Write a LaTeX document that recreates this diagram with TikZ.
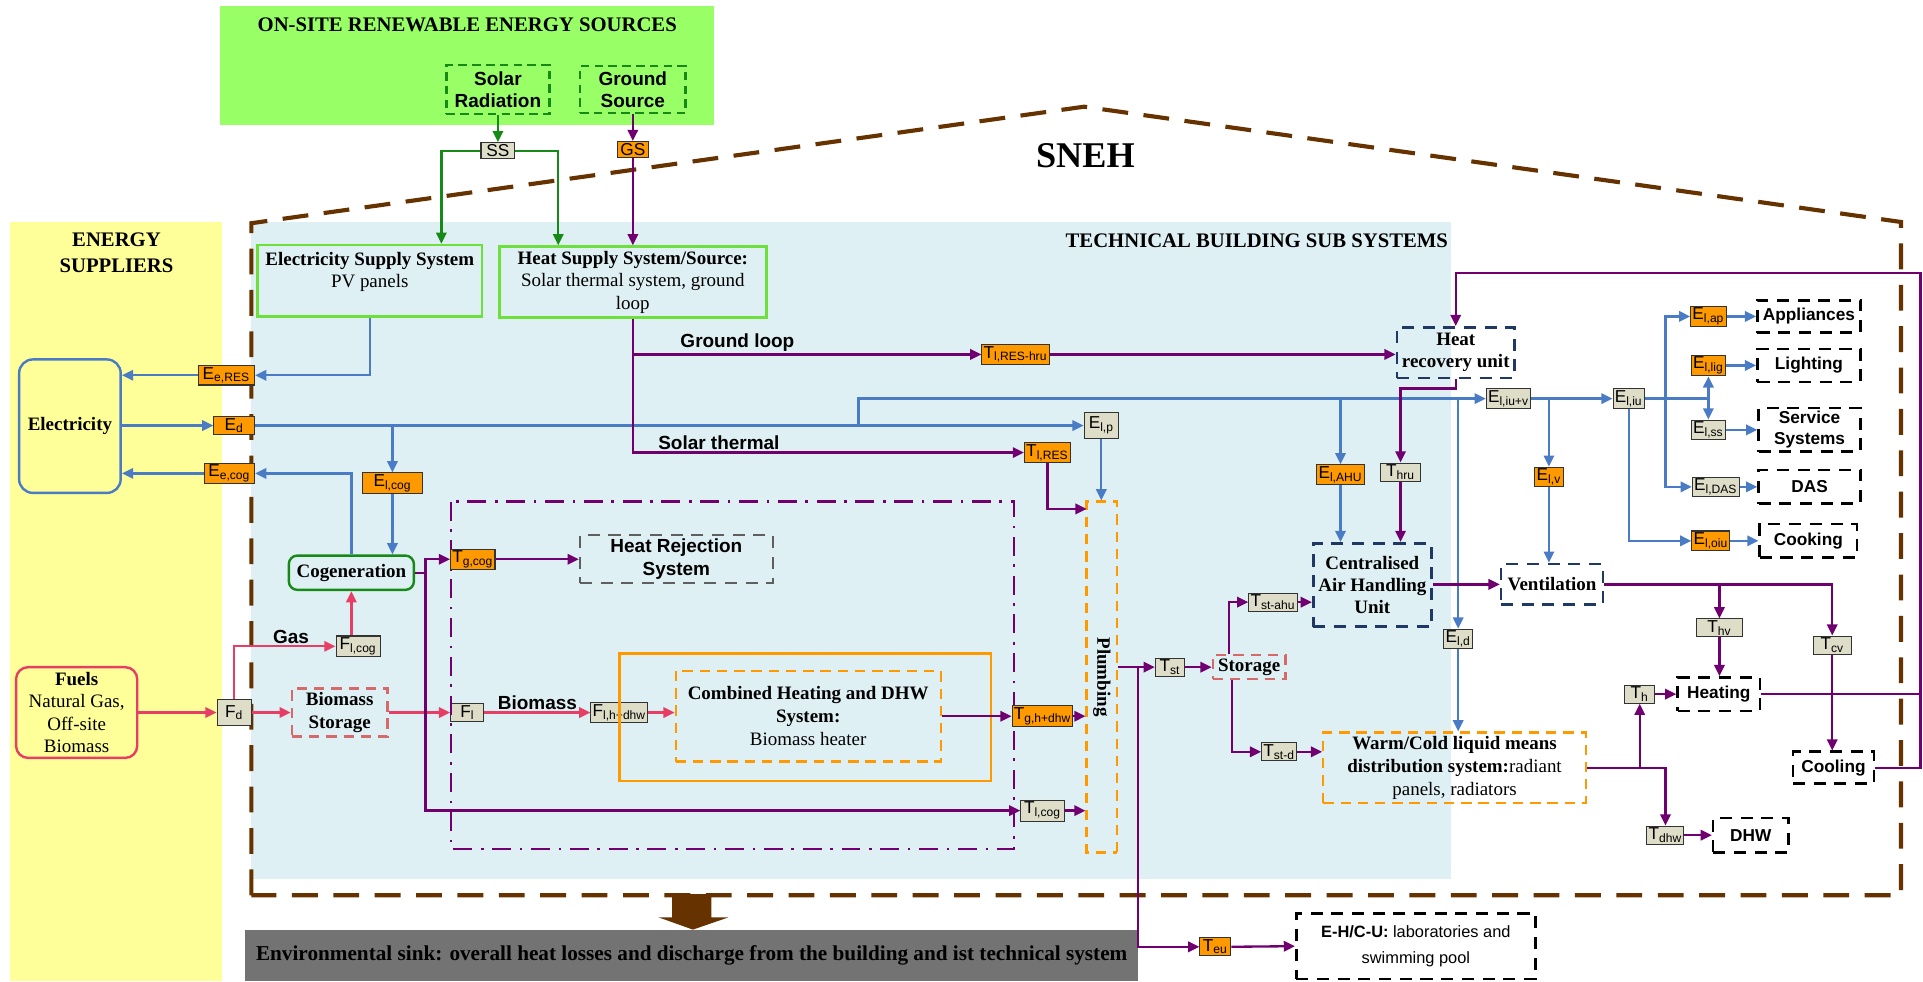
\documentclass[tikz,border=0pt]{standalone}
\usepackage{fontspec}
\setmainfont{Liberation Serif}
\newfontfamily\arialf{Liberation Sans}
\usetikzlibrary{arrows.meta}

\definecolor{bgyellow}{HTML}{FFFF99}
\definecolor{bgblue}{HTML}{DFF0F5}
\definecolor{bggreen}{HTML}{99FF66}
\definecolor{sinkgray}{HTML}{737373}
\definecolor{housebrown}{HTML}{663300}
\definecolor{elblue}{HTML}{4A7CC6}
\definecolor{heatpurple}{HTML}{700070}
\definecolor{fuelred}{HTML}{E63E64}
\definecolor{solargreen}{HTML}{168A16}
\definecolor{supgreen}{HTML}{6EE03C}
\definecolor{laborange}{HTML}{FF9900}
\definecolor{labgray}{HTML}{DDDDC8}
\definecolor{navydash}{HTML}{1F3864}
\definecolor{storpink}{HTML}{D46A6A}
\definecolor{rejgray}{HTML}{5F5F5F}

\newcommand{\sbx}[2]{#1\textsubscript{#2}}

\tikzset{
  headtxt/.style={font=\bfseries\fontsize{12}{15}\selectfont, align=center, inner sep=0pt},
  olab/.style={draw=black!80, line width=0.6pt, fill=laborange, inner sep=1pt,
    minimum height=0.33cm, font=\arialf\fontsize{10}{10}\selectfont},
  glab/.style={olab, fill=labgray},
  sysbox/.style={draw, align=center, inner sep=2pt, font=\fontsize{11}{13}\selectfont},
  supbox/.style={sysbox, draw=supgreen, line width=1.4pt},
  srcbox/.style={sysbox, draw=solargreen, line width=1.3pt, dash pattern=on 5pt off 3pt,
    font=\arialf\bfseries\fontsize{11}{13}\selectfont},
  endbox/.style={sysbox, draw=black, line width=1.5pt, dash pattern=on 7pt off 5pt,
    font=\arialf\bfseries\fontsize{10}{12}\selectfont},
  navybox/.style={sysbox, draw=navydash, line width=1.5pt, dash pattern=on 7pt off 5pt,
    font=\bfseries\fontsize{11}{13}\selectfont},
  orbox/.style={sysbox, draw=laborange, line width=1.3pt, dash pattern=on 6pt off 4pt},
  pinkbox/.style={sysbox, draw=storpink, line width=1.3pt, dash pattern=on 6pt off 4pt,
    font=\bfseries\fontsize{11}{13}\selectfont},
  bline/.style={elblue, line width=1.35pt},
  pline/.style={heatpurple, line width=1.35pt},
  rline/.style={fuelred, line width=1.35pt},
  gline/.style={solargreen, line width=1.35pt},
  flowtxt/.style={text=black, font=\arialf\bfseries\fontsize{11}{13}\selectfont, inner sep=1pt},
}

\begin{document}
\begin{tikzpicture}[x=0.025cm, y=-0.025cm, >={Triangle[length=6.5pt,width=6pt]}]
\useasboundingbox (0,0) rectangle (1568,800);

% backgrounds
\fill[bgyellow] (8,181) rectangle (181,800);
\fill[bgblue] (205,181) rectangle (1183,717);
\fill[bggreen] (179,5) rectangle (582,102);
\draw[housebrown, line width=2.4pt, dash pattern=on 15pt off 9pt]
  (205,730) -- (205,182) -- (884,87) -- (1550,181) -- (1550,730) -- cycle;

% titles
\node[headtxt] (renew) at (381,20) {ON-SITE RENEWABLE ENERGY SOURCES};
\node[headtxt] (supp) at (95,206) {ENERGY\\SUPPLIERS};
\node[font=\bfseries\fontsize{21}{24}\selectfont] (sneh) at (885,127) {SNEH};
\node[headtxt, anchor=east] (tbss) at (1181,196) {TECHNICAL BUILDING SUB SYSTEMS};

% renewable sources
\node[srcbox, minimum width=2.1cm, minimum height=1cm] (solar) at (406,73) {Solar\\Radiation};
\node[srcbox, minimum width=2.15cm, minimum height=0.95cm] (ground) at (516,73) {Ground\\Source};
\node[glab, minimum width=0.69cm] (ss) at (406,123) {SS};
\node[olab, minimum width=0.62cm] (gs) at (516,122) {GS};

% supply systems
\node[supbox, minimum width=4.575cm, minimum height=1.46cm] (ess) at (301.5,229)
  {\textbf{Electricity Supply System}\\PV panels\\\mbox{}};
\node[supbox, minimum width=5.44cm, minimum height=1.45cm] (hss) at (516,230)
  {\textbf{Heat Supply System/Source:}\\Solar thermal system, ground\\loop};

% energy suppliers
\node[sysbox, draw=elblue, line width=1.4pt, rounded corners=8pt, minimum width=2.07cm,
  minimum height=2.72cm, font=\bfseries\fontsize{11}{13}\selectfont] (elec) at (57,347.5) {Electricity};
\node[sysbox, draw=fuelred, line width=1.4pt, rounded corners=7pt, minimum width=2.47cm,
  minimum height=1.85cm] (fuels) at (62.5,581) {\textbf{Fuels}\\Natural Gas,\\Off-site\\Biomass};

% electricity labels
\node[olab, anchor=east, minimum width=1.15cm] (eeres) at (208,306) {\sbx{E}{e,RES}};
\node[olab, anchor=east, minimum width=0.83cm] (ed) at (208,347) {\sbx{E}{d}};
\node[olab, anchor=east, minimum width=1.03cm] (eecog) at (208,386) {\sbx{E}{e,cog}};
\node[olab, minimum width=1.22cm] (elcog) at (320,394) {\sbx{E}{l,cog}};
\node[sysbox, draw=solargreen, line width=1.4pt, rounded corners=5pt, minimum width=2.55cm,
  minimum height=0.7cm, font=\bfseries\fontsize{11}{13}\selectfont] (cog) at (286.5,467) {Cogeneration};

% fuels
\node[glab, minimum width=0.7cm, minimum height=0.52cm] (fd) at (191,581) {\sbx{F}{d}};
\node[pinkbox, minimum width=1.95cm, minimum height=0.98cm] (bstor) at (277,581) {Biomass\\Storage};
\node[glab, minimum width=0.9cm] (flcog) at (292,527) {\sbx{F}{l,cog}};
\node[glab, anchor=west, minimum width=0.68cm, minimum height=0.36cm] (fl) at (367,581) {\sbx{F}{l}};
\node[glab, minimum width=1.1cm] (flhdhw) at (505,581) {\sbx{F}{l,h+dhw}};

% generation
\draw[heatpurple, line width=1.3pt, dash pattern=on 11pt off 5pt on 1.5pt off 5pt] (368,409) rectangle (827,692);
\node[olab, anchor=west, minimum width=0.83cm] (tgcog) at (367,456) {\sbx{T}{g,cog}};
\node[sysbox, draw=rejgray, line width=1.4pt, dash pattern=on 7pt off 5pt,
  font=\arialf\bfseries\fontsize{11}{13}\selectfont, minimum width=3.93cm, minimum height=0.98cm]
  (hrej) at (551.5,456) {Heat Rejection\\System};
\draw[laborange, line width=1.4pt] (505,533) rectangle (808,637);
\node[orbox, minimum width=5.4cm, minimum height=1.85cm, font=\fontsize{11}{13.5}\selectfont] (comb) at (659,584)
  {\textbf{Combined Heating and DHW}\\\textbf{System:}\\Biomass heater};
\node[olab, minimum width=1.15cm, minimum height=0.43cm] (tghdhw) at (850,584) {\sbx{T}{g,h+dhw}};
\node[glab, minimum width=0.88cm, minimum height=0.43cm] (tlcog) at (850,661) {\sbx{T}{l,cog}};
\node[orbox, rotate=-90, minimum width=7.15cm, minimum height=0.625cm,
  font=\bfseries\fontsize{11}{13}\selectfont] (plumb) at (898.5,552) {Plumbing};
\coordinate (pin) at (886,415);

% heat supply branches
\node[olab, minimum width=1.28cm] (tlreshru) at (828,289) {\sbx{T}{l,RES-hru}};
\node[olab, minimum width=0.88cm, minimum height=0.4cm] (tlres) at (854,369) {\sbx{T}{l,RES}};
\node[glab, minimum width=0.7cm, minimum height=0.52cm] (elp) at (898,347) {\sbx{E}{l,p}};

% air handling
\node[navybox, minimum width=2.4cm, minimum height=1.03cm] (hru) at (1187,287.5) {Heat\\recovery unit};
\node[glab, minimum width=0.83cm] (thru) at (1142,385) {\sbx{T}{hru}};
\node[olab, minimum width=0.95cm] (elahu) at (1093,387) {\sbx{E}{l,AHU}};
\node[navybox, minimum width=2.41cm, minimum height=1.7cm] (cahu) at (1119,477) {Centralised\\Air Handling\\Unit};
\node[glab, minimum width=0.6cm] (eld) at (1189,521) {\sbx{E}{l,d}};
\node[glab, minimum width=0.95cm] (tstahu) at (1038,491) {\sbx{T}{st-ahu}};
\node[pinkbox, minimum width=1.48cm, minimum height=0.45cm] (stor) at (1018.5,544) {Storage};
\node[glab, minimum width=0.6cm] (tst) at (954,544) {\sbx{T}{st}};
\node[glab, minimum width=0.6cm] (tstd) at (1043,613) {\sbx{T}{st-d}};
\node[orbox, minimum width=5.35cm, minimum height=1.39cm, font=\fontsize{11}{13.4}\selectfont] (warm) at (1186,626)
  {\textbf{Warm/Cold liquid means}\\\textbf{distribution system:}radiant\\panels, radiators};

% sink and end users
\node[fill=sinkgray, minimum width=18.2cm, minimum height=1.05cm, font=\bfseries\fontsize{12.3}{14}\selectfont]
  (sink) at (564,779) {Environmental sink: overall heat losses and discharge from the building and ist technical system};
\fill[housebrown] (548,729) -- (580,729) -- (580,748) -- (594,748) -- (565,758) -- (537,748) -- (548,748) -- cycle;
\node[olab, minimum width=0.63cm] (teu) at (991,772) {\sbx{T}{eu}};
\node[endbox, minimum width=4.875cm, minimum height=1.33cm, font=\arialf\fontsize{9.5}{15}\selectfont]
  (ehcu) at (1154.5,771.5) {\textbf{E-H/C-U:} laboratories and\\swimming pool};

% heating, cooling, DHW
\node[glab, minimum width=0.62cm] (th) at (1337,566) {\sbx{T}{h}};
\node[endbox, minimum width=1.68cm, minimum height=0.68cm] (heat) at (1401.5,566) {Heating};
\node[glab, minimum width=0.7cm] (tdhw) at (1358,681) {\sbx{T}{dhw}};
\node[endbox, minimum width=1.53cm, minimum height=0.7cm] (dhw) at (1427.5,681) {DHW};
\node[endbox, minimum width=1.65cm, minimum height=0.65cm] (cool) at (1495,626) {Cooling};
\node[glab, minimum width=0.95cm] (thv) at (1402,512) {\sbx{T}{hv}};
\node[glab, minimum width=0.78cm] (tcv) at (1494,526) {\sbx{T}{cv}};
\node[navybox, minimum width=2.08cm, minimum height=0.83cm] (vent) at (1265.5,476.5) {Ventilation};

% electricity end uses
\node[glab, minimum width=0.87cm] (eliuv) at (1230,325) {\sbx{E}{l,iu+v}};
\node[glab, minimum width=0.62cm] (eliu) at (1328,325) {\sbx{E}{l,iu}};
\node[olab, minimum width=0.6cm] (elv) at (1263,389) {\sbx{E}{l,v}};
\node[olab, minimum width=0.65cm] (elap) at (1393,258) {\sbx{E}{l,ap}};
\node[olab, minimum width=0.7cm] (ellig) at (1393,298) {\sbx{E}{l,lig}};
\node[glab, minimum width=0.65cm] (elss) at (1393,350.5) {\sbx{E}{l,ss}};
\node[glab, minimum width=0.95cm] (eldas) at (1399,397) {\sbx{E}{l,DAS}};
\node[olab, minimum width=0.75cm] (eloiu) at (1395,441) {\sbx{E}{l,oiu}};
\node[endbox, minimum width=2.1cm, minimum height=0.66cm] (app) at (1475,258) {Appliances};
\node[endbox, minimum width=2.1cm, minimum height=0.67cm] (light) at (1475,298) {Lighting};
\node[endbox, minimum width=2.08cm, minimum height=0.8cm] (serv) at (1475.5,350.5) {Service\\Systems};
\node[endbox, minimum width=2.08cm, minimum height=0.68cm] (das) at (1475.5,397) {DAS};
\node[endbox, minimum width=1.98cm, minimum height=0.68cm] (cook) at (1474.5,441) {Cooking};

% solar and ground source
\draw[gline, ->] (solar) -- (ss);
\draw[gline, ->] (ss.west) -| ([xshift=1.46cm]ess.north);
\draw[gline, ->] (ss.east) -| ([xshift=1.225cm]hss.north west);
\draw[pline, ->] (ground) -- (gs);
\draw[pline, ->] (gs) -- (gs |- hss.north);

% electricity flows
\draw[bline, ->] (ess.south) |- (eeres.east);
\draw[bline, ->] (eeres.west) -- (eeres.west -| elec.east);
\draw[bline, ->] (elec.east |- ed.west) -- (ed.west);
\draw[bline, ->] (ed.east) -- (elp.west);
\draw[bline, ->] (ed.east -| elcog.north) -- (elcog.north);
\draw[bline, ->] (elcog.south) -- (elcog.south |- cog.north);
\draw[bline, ->] (cog.north) |- (eecog.east);
\draw[bline, ->] (eecog.west) -- (eecog.west -| elec.east);
\draw[bline, ->] (elp.south) -- (elp.south |- plumb.west);
\coordinate (eup) at (700,347);
\draw[bline, ->] (eup) |- (eliuv.west);
\draw[bline, ->] (elahu.north |- eliuv.west) -- (elahu.north);
\draw[bline, ->] (elahu.south) -- (elahu.south |- cahu.north);
\draw[bline, ->] (eld.north |- eliuv.west) -- (eld.north);
\draw[bline, ->] (eld.south) -- (eld.south |- warm.north);
\draw[bline, ->] (eliuv.east) -- (eliu.west);
\draw[bline, ->] (eliuv.east -| elv.north) -- (elv.north);
\draw[bline, ->] (elv.south) -- (elv.south |- vent.north);
\draw[bline] (eliu.east) -- (eliu.east -| ellig.south);
\draw[bline, ->] (eliu.east -| ellig.south) -- (ellig.south);
\draw[bline, ->] (eliu.east -| elss.north) -- (elss.north);
\coordinate (bus) at (1358,325);
\draw[bline, ->] (bus) |- (elap.west);
\draw[bline, ->] (bus) |- (eldas.west);
\draw[bline, ->] (eliu.south) |- (eloiu.west);
\draw[bline, ->] (elap) -- (app);
\draw[bline, ->] (ellig) -- (light);
\draw[bline, ->] (elss) -- (serv);
\draw[bline, ->] (eldas) -- (das);
\draw[bline, ->] (eloiu) -- (cook);

% fuel flows
\draw[rline, ->] (fuels.east |- fd) -- (fd.west);
\draw[rline, ->] (fd.north) |- (flcog.west) node[flowtxt, above, pos=0.78] {Gas};
\draw[rline, ->] (flcog.north -| cog.south) -- (cog.south);
\draw[rline, ->] (fd.east) -- (bstor.west);
\draw[rline, ->] (bstor.east) -- (fl.west);
\draw[rline, ->] (fl.east) -- (flhdhw.west) node[flowtxt, above, midway] {Biomass};
\draw[rline, ->] (flhdhw.east) -- (flhdhw.east -| comb.west);

% heat flows
\coordinate (cbus) at (347,467);
\draw[pline] (cog.east) -- (cbus);
\draw[pline, ->] (cbus) |- (tgcog.west);
\draw[pline, ->] (cbus) |- (tlcog.west);
\draw[pline, ->] (tgcog.east) -- (tgcog.east -| hrej.west);
\draw[pline, ->] (comb.east |- tghdhw) -- (tghdhw.west);
\draw[pline, ->] (tghdhw.east) -- (tghdhw.east -| plumb.south);
\draw[pline, ->] (tlcog.east) -- (tlcog.east -| plumb.south);
\draw[pline, ->] (hss.south) |- (tlres.west) node[flowtxt, above, pos=0.61] {Solar thermal};
\draw[pline, ->] (hss.south |- tlreshru) -- (tlreshru.west) node[flowtxt, above, pos=0.3] {Ground loop};
\draw[pline, ->] (tlres.south) |- (pin);
\draw[pline, ->] (tlreshru.east) -- (tlreshru.east -| hru.west);
\coordinate (rtop) at (1566,222.6);
\draw[pline, ->] (cool.east) -| (rtop) -| (hru.north);
\draw[pline] (heat.east) -- (heat.east -| rtop);
\draw[pline, ->] (hru.south) -- ++(0,7.5) -| (thru.north);
\draw[pline, ->] (thru.south) -- (thru.south |- cahu.north);
\draw[pline, ->] (cahu.east |- vent) -- (vent.west);
\draw[pline, ->] (vent.east) -| (tcv.north);
\draw[pline, ->] (vent.east -| thv.north) -- (thv.north);
\draw[pline, ->] (thv.south) -- (thv.south |- heat.north);
\draw[pline, ->] (tcv.south) -- (tcv.south |- cool.north);
\draw[pline, ->] (th.east) -- (heat.west);
\draw[pline, ->] (warm.east) -| (tdhw.north);
\draw[pline, ->] (warm.east -| th.south) -- (th.south);
\draw[pline, ->] (tdhw.east) -- (dhw.west);
\draw[pline, ->] (plumb.north |- tst) -- (tst.west);
\draw[pline, ->] (tst.east) -- (stor.west);
\draw[pline, ->] ([xshift=0.35cm]stor.north west) |- (tstahu.west);
\draw[pline, ->] (tstahu.east) -- (tstahu.east -| cahu.west);
\draw[pline, ->] ([xshift=0.415cm]stor.south west) |- (tstd.west);
\draw[pline, ->] (tstd.east) -- (tstd.east -| warm.west);
\coordinate (sjn) at (928,544);
\draw[pline, ->] (sjn) |- (teu.west);
\draw[pline, ->] (teu.east) -- (ehcu.west);
\end{tikzpicture}
\end{document}
